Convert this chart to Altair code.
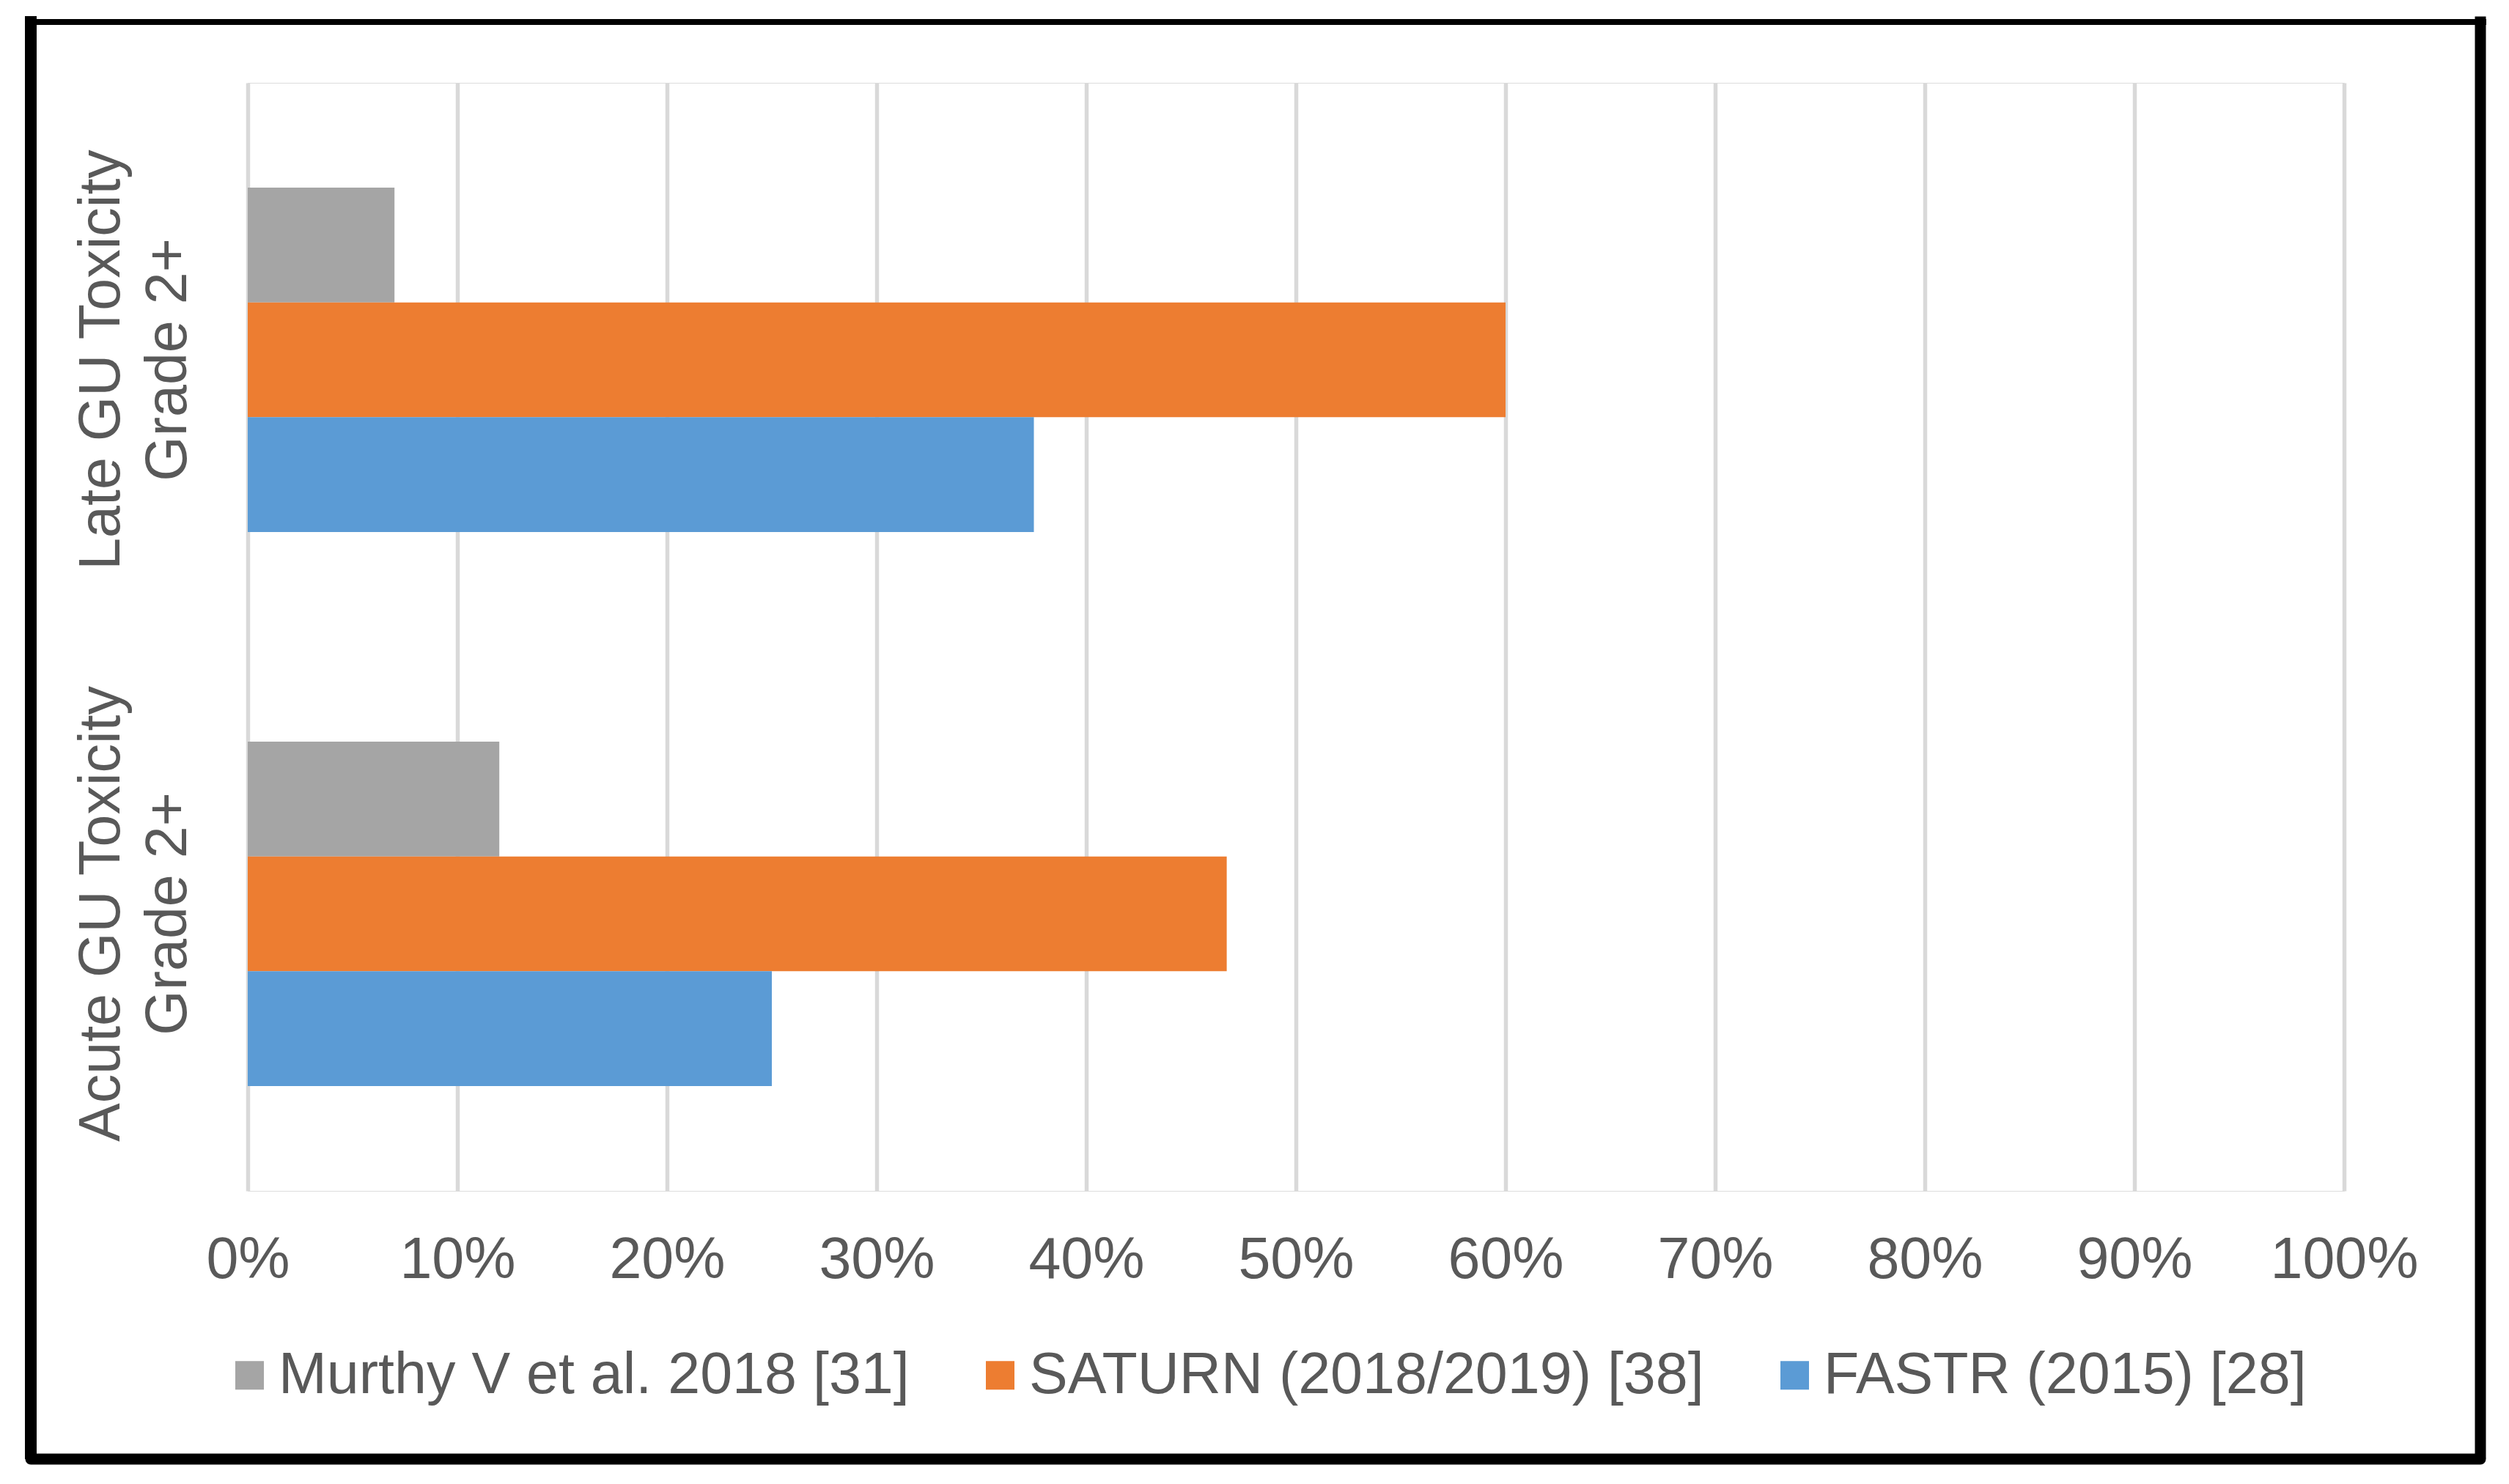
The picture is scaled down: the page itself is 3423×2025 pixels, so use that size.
import altair as alt
import pandas as pd

# ---- data ----
categories = ["Late GU Toxicity\nGrade 2+", "Acute GU Toxicity\nGrade 2+"]
series = ["Murthy V et al. 2018 [31]", "SATURN (2018/2019) [38]", "FASTR (2015) [28]"]
murthy = [0.07, 0.12]
saturn = [0.60, 0.467]
fastr = [0.375, 0.25]
colors = ["#A5A5A5", "#ED7D31", "#5B9BD5"]
x_ticks = [0, 0.1, 0.2, 0.3, 0.4, 0.5, 0.6, 0.7, 0.8, 0.9, 1.0]

rows = []
for s, vals in zip(series, [murthy, saturn, fastr]):
    for c, v in zip(categories, vals):
        rows.append({"category": c, "series": s, "value": v})
df = pd.DataFrame(rows)
lab = pd.DataFrame({"category": categories})

FONT = "Liberation Sans"
TXT = "#595959"
FS = 79

W, H = 2860, 1512
PAD = {"left": 330, "top": 105, "right": 215, "bottom": 388}

yscale = alt.Scale(domain=categories, paddingInner=0.378, paddingOuter=0.189)

bars = alt.Chart(df).mark_bar(cornerRadius=0).encode(
    x=alt.X("value:Q",
            scale=alt.Scale(domain=[0, 1], nice=False, zero=True),
            axis=alt.Axis(values=x_ticks, format=".0%", title=None,
                          grid=True, gridColor="#D9D9D9", gridWidth=5.5,
                          domain=False, ticks=False, labelPadding=56,
                          labelFontSize=FS, labelFont=FONT, labelColor=TXT,
                          labelFlush=False, labelOverlap=False,
                          labelLimit=1000)),
    y=alt.Y("category:N", scale=yscale, axis=None, sort=categories),
    yOffset=alt.YOffset("series:N", sort=series,
                        scale=alt.Scale(paddingInner=0, paddingOuter=0)),
    color=alt.Color("series:N", sort=series,
                    scale=alt.Scale(domain=series, range=colors),
                    legend=alt.Legend(title=None, orient="none",
                                      legendX=-37, legendY=1724,
                                      direction="horizontal",
                                      symbolType="square", symbolSize=1521,
                                      symbolStrokeWidth=0, symbolOpacity=1,
                                      labelFontSize=FS, labelFont=FONT,
                                      labelColor=TXT, labelOffset=0,
                                      labelLimit=3000, columnPadding=84,
                                      padding=0)),
)

labels = alt.Chart(lab).mark_text(
    angle=270, align="center", baseline="middle", lineBreak="\n",
    lineHeight=91, fontSize=FS, font=FONT, color=TXT,
).encode(
    y=alt.Y("category:N", scale=yscale, axis=None, sort=categories),
    x=alt.value(-199),
    text="category:N",
)

one = pd.DataFrame({"k": [0]})
def rule(width, cap, **enc):
    return alt.Chart(one).mark_rule(color="black", strokeWidth=width,
                                    strokeCap=cap).encode(**enc)

border = [
    rule(8, "square", x=alt.value(-300), x2=alt.value(3050), y=alt.value(-83)),
    rule(16, "square", x=alt.value(-296), y=alt.value(-83), y2=alt.value(1870)),
    rule(15, "square", x=alt.value(3046), y=alt.value(-83), y2=alt.value(1870)),
    rule(15, "round", x=alt.value(-296), x2=alt.value(3046), y=alt.value(1878)),
]

chart = alt.layer(bars, labels, *border).properties(
    width=W, height=H, padding=PAD,
    autosize=alt.AutoSizeParams(type="none"),
).configure_view(stroke=None).configure(background="white")

chart.save("out.html", embed_options={"renderer": "svg", "actions": False})
